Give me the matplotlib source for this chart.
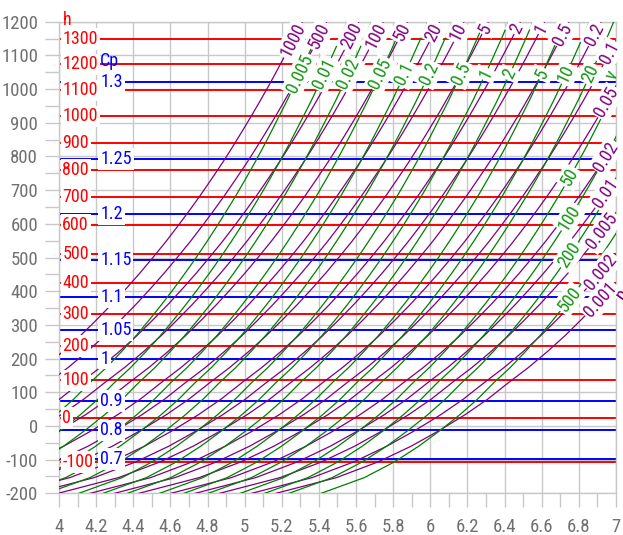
import numpy as np
import matplotlib
matplotlib.use('Agg')
import matplotlib.pyplot as plt

plt.rcParams['font.family'] = ['Liberation Sans Narrow', 'Roboto Condensed', 'DejaVu Sans']
plt.rcParams['font.stretch'] = 'condensed'
plt.rcParams['axes.unicode_minus'] = False

# temperature levels of the curves (deg C)
temps = [-200, -153.33, -106.67, -60, -13.33, 33.33, 80, 126.67, 173.33, 220,
         266.67, 313.33, 360, 406.67, 453.33, 500, 546.67, 593.33, 640, 686.67,
         733.33, 780, 826.67, 873.33, 920, 966.67, 1013.33, 1060, 1106.67,
         1153.33, 1200]
# entropy along the 1 bar isobar and along the v = 1 isochore
s_p1 = [3.864, 4.190, 4.414, 4.592, 4.744, 4.882, 5.005, 5.112, 5.223, 5.324,
        5.418, 5.504, 5.587, 5.665, 5.740, 5.811, 5.880, 5.945, 6.008, 6.069,
        6.127, 6.184, 6.238, 6.290, 6.341, 6.390, 6.438, 6.484, 6.529, 6.573, 6.616]
s_v1 = [4.238, 4.471, 4.633, 4.764, 4.879, 4.985, 5.081, 5.165, 5.256, 5.337,
        5.414, 5.485, 5.553, 5.618, 5.680, 5.740, 5.797, 5.852, 5.905, 5.957,
        6.006, 6.054, 6.100, 6.144, 6.187, 6.230, 6.270, 6.310, 6.348, 6.386, 6.422]

# isobars (purple) and their entropy shift from the 1 bar curve
pressures = ['1000', '500', '200', '100', '50', '20', '10', '5', '2', '1', '0.5',
             '0.2', '0.1', '0.05', '0.02', '0.01', '0.005', '0.002', '0.001']
p_shift = [-1.305, -1.174, -1.001, -0.870, -0.739, -0.566, -0.435, -0.304, -0.131,
           0.0, 0.131, 0.304, 0.435, 0.566, 0.739, 0.870, 1.001, 1.174, 1.305]
# isochores (green) and their entropy shift from the v = 1 curve
volumes = ['0.005', '0.01', '0.02', '0.05', '0.1', '0.2', '0.5', '1', '2', '5',
           '10', '20', '50', '100', '200', '500']
v_shift = [-1.001, -0.870, -0.739, -0.566, -0.435, -0.304, -0.131, 0.0, 0.131,
           0.304, 0.435, 0.566, 0.739, 0.870, 1.001, 1.174]

# enthalpy lines (red) and cp lines (blue): value and temperature
h_labels = ['-100', '0', '100', '200', '300', '400', '500', '600', '700', '800',
            '900', '1000', '1100', '1200', '1300']
h_temps = [-107, 24, 135, 237, 332, 423, 510, 596, 679, 760, 840, 919, 996, 1073, 1149]
cp_labels = ['0.7', '0.8', '0.9', '1', '1.05', '1.1', '1.15', '1.2', '1.25', '1.3']
cp_temps = [-98, -13, 74, 200, 284, 383, 494, 628, 793, 1020]

RED, BLUE, PURPLE, GREEN = '#ff0000', '#0000ff', '#800080', '#008000'
GRIDC = '#c8c8c8'
FS = 13

fig = plt.figure(figsize=(6.23, 5.35), dpi=100)
ax = fig.add_axes([59 / 623, 1 - 493.3 / 535, 557 / 623, 471.6 / 535])
ax.set_xlim(4, 7)
ax.set_ylim(-200, 1200)

ax.set_xticks(np.arange(4, 7.01, 0.2))
ax.set_xticklabels([f'{v:g}' for v in np.round(np.arange(4, 7.01, 0.2), 1)])
ax.set_xticks(np.arange(4, 7.01, 0.1), minor=True)
ax.set_yticks(np.arange(-200, 1201, 100))
ax.set_yticks(np.arange(-200, 1201, 50), minor=True)
ax.grid(which='major', color=GRIDC, lw=1.0, zorder=0)
ax.tick_params(which='both', direction='out', length=10, width=1.0, color=GRIDC,
               labelcolor='#707070', labelsize=13.5)
ax.tick_params(axis='x', pad=8)
ax.tick_params(axis='y', pad=5)
for sp in ax.spines.values():
    sp.set_color(GRIDC)
    sp.set_linewidth(1.0)

T = np.array(temps)
white = dict(boxstyle='square,pad=0.1', fc='white', ec='none')

# horizontal lines with labels at the left
for lab, t in zip(h_labels, h_temps):
    ax.axhline(t, color=RED, lw=1.4, zorder=2)
    ax.text(4.018, t, lab, color=RED, fontsize=FS, ha='left', va='center',
            bbox=white, zorder=6)
for lab, t in zip(cp_labels, cp_temps):
    ax.axhline(t, color=BLUE, lw=1.4, zorder=2)
    ax.text(4.222, t, lab, color=BLUE, fontsize=FS, ha='left', va='center',
            bbox=white, zorder=6)
ax.text(4.02, 1205, 'h', color=RED, fontsize=FS, ha='left', va='center', clip_on=False, zorder=6)
ax.text(4.222, 1082, 'Cp', color=BLUE, fontsize=FS, ha='left', va='center', zorder=6)


def clipped(s):
    pts = ax.transData.transform(np.column_stack([s, T]))
    x0, y0, x1, y1 = ax.bbox.extents
    out = [pts[0]]
    for a, b in zip(pts[:-1], pts[1:]):
        if b[0] <= x1 + 1e-6 and b[1] <= y1 + 1e-6:
            out.append(b)
            continue
        t = 1.0
        if b[0] > x1:
            t = min(t, (x1 - a[0]) / (b[0] - a[0]))
        if b[1] > y1:
            t = min(t, (y1 - a[1]) / (b[1] - a[1]))
        out.append(a + t * (b - a))
        break
    return np.array(out)


def back_from_end(path, d):
    rem = d
    for i in range(len(path) - 1, 0, -1):
        a, b = path[i - 1], path[i]
        seg = np.hypot(*(b - a))
        if seg >= rem and seg > 0:
            p = b + (a - b) * rem / seg
            return p, np.degrees(np.arctan2(b[1] - a[1], b[0] - a[0]))
        rem -= seg
    a, b = path[0], path[1]
    return a, np.degrees(np.arctan2(b[1] - a[1], b[0] - a[0]))


inv = ax.transData.inverted()

for lab, dp in zip(pressures, p_shift):
    s = np.array(s_p1) + dp
    ax.plot(s, T, color=PURPLE, lw=0.9, zorder=3)
    path = clipped(s)
    p, ang = back_from_end(path, 3)
    x, y = inv.transform(p)
    ax.text(x, y, lab, color=PURPLE, fontsize=FS, rotation=ang, rotation_mode='anchor',
            ha='right', va='center', bbox=white, zorder=7)

for lab, dv in zip(volumes, v_shift):
    s = np.array(s_v1) + dv
    ax.plot(s, T, color=GREEN, lw=0.9, zorder=3)
    s_top = np.interp(1045, T, s)
    if s_top < 6.95:
        x, y = s_top, 1045
    else:
        x, y = 6.75, np.interp(6.75, s, T)
    i = min(np.searchsorted(T, y), len(T) - 1)
    a = ax.transData.transform((s[i - 1], T[i - 1]))
    b = ax.transData.transform((s[i], T[i]))
    ang = np.degrees(np.arctan2(b[1] - a[1], b[0] - a[0]))
    ax.text(x, y, lab, color='#139613', fontsize=FS, rotation=ang, rotation_mode='anchor',
            ha='center', va='center', bbox=white, zorder=7)

ax.text(6.978, 1040, 'v', color='#139613', fontsize=FS, rotation=62,
        ha='center', va='center', clip_on=False, zorder=7)
ax.text(7.03, 392, 'p', color=PURPLE, fontsize=FS, rotation=55,
        ha='center', va='center', clip_on=False, zorder=7)

fig.savefig('out.png', dpi=100)
